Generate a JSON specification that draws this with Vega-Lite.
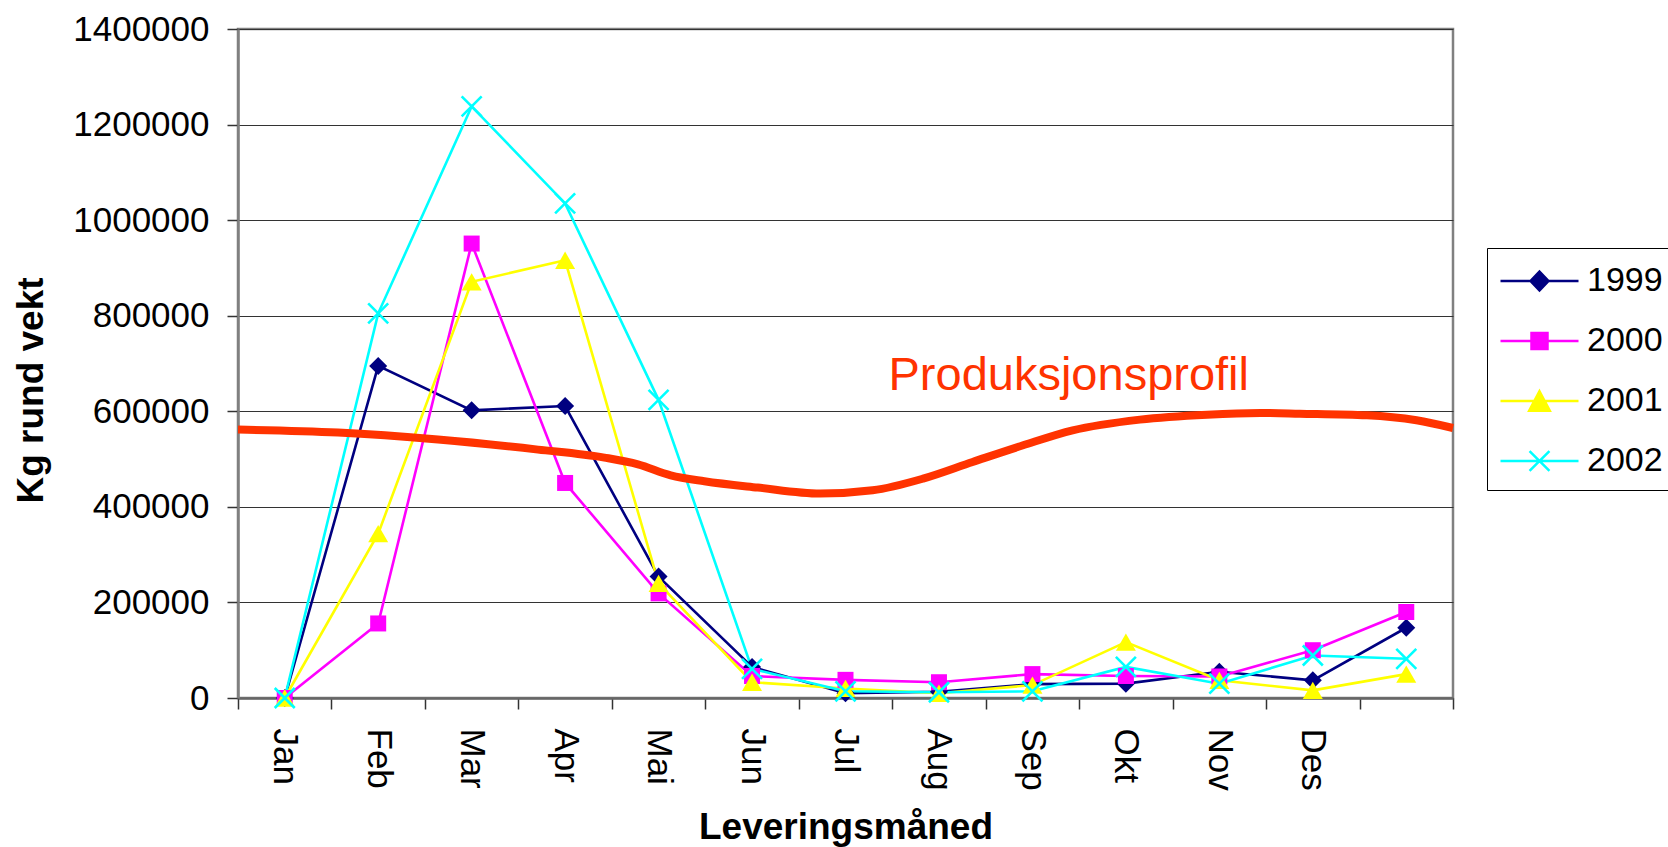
{
  "$schema": "https://vega.github.io/schema/vega-lite/v6.json",
  "autosize": {"type": "none"},
  "padding": {"left": 238, "top": 29, "right": 215, "bottom": 149},
  "width": 1215,
  "height": 669,
  "background": "white",
  "config": {
    "font": "Liberation Sans",
    "view": {"stroke": "#808080", "strokeWidth": 2.5},
    "axis": {"labelColor": "black", "titleColor": "black", "labelFont": "Liberation Sans", "titleFont": "Liberation Sans"},
    "legend": {"labelFont": "Liberation Sans", "orient": "none", "legendX": 1249, "legendY": 219, "padding": 12, "strokeColor": "#000000", "symbolSize": 1521, "symbolStrokeWidth": 2.5, "labelFontSize": 34, "labelColor": "black", "labelOffset": 46, "rowPadding": 22}
  },
  "datasets": {
    "series": [
      {"m": 1, "year": "1999", "v": 0}, {"m": 2, "year": "1999", "v": 695000}, {"m": 3, "year": "1999", "v": 602000}, {"m": 4, "year": "1999", "v": 611000}, {"m": 5, "year": "1999", "v": 254000}, {"m": 6, "year": "1999", "v": 65000}, {"m": 7, "year": "1999", "v": 10000}, {"m": 8, "year": "1999", "v": 13000}, {"m": 9, "year": "1999", "v": 29000}, {"m": 10, "year": "1999", "v": 30000}, {"m": 11, "year": "1999", "v": 55000}, {"m": 12, "year": "1999", "v": 37000}, {"m": 13, "year": "1999", "v": 147000},
      {"m": 1, "year": "2000", "v": 0}, {"m": 2, "year": "2000", "v": 156000}, {"m": 3, "year": "2000", "v": 951000}, {"m": 4, "year": "2000", "v": 450000}, {"m": 5, "year": "2000", "v": 219000}, {"m": 6, "year": "2000", "v": 46000}, {"m": 7, "year": "2000", "v": 38000}, {"m": 8, "year": "2000", "v": 33000}, {"m": 9, "year": "2000", "v": 50000}, {"m": 10, "year": "2000", "v": 46000}, {"m": 11, "year": "2000", "v": 45000}, {"m": 12, "year": "2000", "v": 100000}, {"m": 13, "year": "2000", "v": 180000},
      {"m": 1, "year": "2001", "v": 0}, {"m": 2, "year": "2001", "v": 344000}, {"m": 3, "year": "2001", "v": 871000}, {"m": 4, "year": "2001", "v": 916000}, {"m": 5, "year": "2001", "v": 240000}, {"m": 6, "year": "2001", "v": 33000}, {"m": 7, "year": "2001", "v": 20000}, {"m": 8, "year": "2001", "v": 10000}, {"m": 9, "year": "2001", "v": 27000}, {"m": 10, "year": "2001", "v": 117000}, {"m": 11, "year": "2001", "v": 37000}, {"m": 12, "year": "2001", "v": 16000}, {"m": 13, "year": "2001", "v": 50000},
      {"m": 1, "year": "2002", "v": 0}, {"m": 2, "year": "2002", "v": 805000}, {"m": 3, "year": "2002", "v": 1238000}, {"m": 4, "year": "2002", "v": 1035000}, {"m": 5, "year": "2002", "v": 624000}, {"m": 6, "year": "2002", "v": 61000}, {"m": 7, "year": "2002", "v": 14000}, {"m": 8, "year": "2002", "v": 12000}, {"m": 9, "year": "2002", "v": 14000}, {"m": 10, "year": "2002", "v": 65000}, {"m": 11, "year": "2002", "v": 30000}, {"m": 12, "year": "2002", "v": 89000}, {"m": 13, "year": "2002", "v": 82000}
    ],
    "profil": [
      {"x": 0.5, "y": 561700}, {"x": 1.57, "y": 555400}, {"x": 2.64, "y": 540800}, {"x": 3.71, "y": 519800}, {"x": 4.42, "y": 503100}, {"x": 4.78, "y": 489000}, {"x": 5.13, "y": 466000}, {"x": 5.49, "y": 453500}, {"x": 6.06, "y": 440300}, {"x": 6.73, "y": 427700}, {"x": 7.29, "y": 434600}, {"x": 7.83, "y": 459100}, {"x": 8.36, "y": 493900}, {"x": 8.9, "y": 528800}, {"x": 9.43, "y": 560200}, {"x": 10.15, "y": 582600}, {"x": 10.87, "y": 593000}, {"x": 11.44, "y": 596400}, {"x": 11.86, "y": 595000}, {"x": 12.58, "y": 591600}, {"x": 13.11, "y": 581100}, {"x": 13.5, "y": 565000}
    ],
    "tekst": [{"x": 7.46, "y": 644000, "t": "Produksjonsprofil"}]
  },
  "resolve": {"axis": {"x": "independent"}},
  "layer": [
    {
      "data": {"name": "series"},
      "transform": [{"filter": "datum.m == 1"}],
      "mark": {"type": "point", "filled": true, "size": 10, "strokeWidth": 2.5, "opacity": 1},
      "encoding": {
        "x": {"field": "m", "type": "quantitative", "axis": null},
        "y": {"field": "v", "type": "quantitative"},
        "fill": {"field": "year", "type": "nominal", "scale": {"domain": ["1999", "2000", "2001", "2002"], "range": ["#000080", "#FF00FF", "#FFFF00", "transparent"]}, "legend": {"title": null}},
        "stroke": {"field": "year", "type": "nominal", "scale": {"domain": ["1999", "2000", "2001", "2002"], "range": ["#000080", "#FF00FF", "#FFFF00", "#00FFFF"]}, "legend": {"title": null}},
        "shape": {"field": "year", "type": "nominal", "scale": {"domain": ["1999", "2000", "2001", "2002"], "range": ["M-1,0L3,0M1,-0.48L1.46,0L1,0.48L0.54,0Z", "M-1,0L3,0M0.59,-0.41L1.41,-0.41L1.41,0.41L0.59,0.41Z", "M-1,0L3,0M1,-0.5L1.53,0.5L0.47,0.5Z", "M-1,0L3,0M0.49,-0.51L1.51,0.51M0.49,0.51L1.51,-0.51"]}, "legend": {"title": null}}
      }
    },
    {
      "data": {"name": "series"},
      "mark": {"type": "line", "strokeWidth": 2.6},
      "encoding": {
        "x": {"field": "m", "type": "quantitative", "scale": {"domain": [0.5, 13.5], "nice": false, "zero": false},
          "axis": {"orient": "bottom", "values": [0.5, 1.5, 2.5, 3.5, 4.5, 5.5, 6.5, 7.5, 8.5, 9.5, 10.5, 11.5, 12.5, 13.5], "labels": false, "ticks": true, "tickSize": 11, "tickColor": "#333333", "tickWidth": 1.5, "domain": true, "domainColor": "#666666", "domainWidth": 2.5, "grid": false, "title": null}},
        "y": {"field": "v", "type": "quantitative", "scale": {"domain": [0, 1400000], "nice": false, "zero": true},
          "axis": {"values": [0, 200000, 400000, 600000, 800000, 1000000, 1200000, 1400000], "format": "d", "tickSize": 11, "tickColor": "#333333", "tickWidth": 1.5, "labelPadding": 18, "labelFontSize": 35, "labelBaseline": "middle", "grid": true, "gridColor": "#333333", "gridWidth": 1, "domainColor": "#808080", "domainWidth": 2.5, "title": "Kg rund vekt", "titleFontSize": 37, "titleFontWeight": "bold", "titleX": -196, "titleY": 361, "titleAngle": 270, "titleBaseline": "alphabetic", "titleAlign": "center"}},
        "color": {"field": "year", "type": "nominal", "scale": {"domain": ["1999", "2000", "2001", "2002"], "range": ["#000080", "#FF00FF", "#FFFF00", "#00FFFF"]}, "legend": null}
      }
    },
    {
      "data": {"name": "series"},
      "transform": [{"filter": "datum.year == '1999'"}],
      "mark": {"type": "point", "filled": true, "shape": "diamond", "size": 324, "opacity": 1},
      "encoding": {
        "x": {"field": "m", "type": "quantitative",
          "axis": {"orient": "bottom", "values": [1, 2, 3, 4, 5, 6, 7, 8, 9, 10, 11, 12], "ticks": false, "domain": false, "grid": false, "labelAngle": 90, "labelAlign": "left", "labelBaseline": "middle", "labelPadding": 30, "labelFontSize": 35, "labelFlush": false, "labelOverlap": false, "labelExpr": "['Jan','Feb','Mar','Apr','Mai','Jun','Jul','Aug','Sep','Okt','Nov','Des'][datum.value-1]", "title": "Leveringsmåned", "titleFontSize": 37, "titleFontWeight": "bold", "titleY": 140, "titleBaseline": "alphabetic"}},
        "y": {"field": "v", "type": "quantitative"},
        "color": {"field": "year", "type": "nominal", "legend": null}
      }
    },
    {
      "data": {"name": "series"},
      "transform": [{"filter": "datum.year == '2000'"}],
      "mark": {"type": "point", "filled": true, "shape": "square", "size": 256, "opacity": 1},
      "encoding": {
        "x": {"field": "m", "type": "quantitative", "axis": null},
        "y": {"field": "v", "type": "quantitative"},
        "color": {"field": "year", "type": "nominal", "legend": null}
      }
    },
    {
      "data": {"name": "series"},
      "transform": [{"filter": "datum.year == '2001'"}],
      "mark": {"type": "point", "filled": true, "shape": "triangle-up", "size": 400, "opacity": 1},
      "encoding": {
        "x": {"field": "m", "type": "quantitative", "axis": null},
        "y": {"field": "v", "type": "quantitative"},
        "color": {"field": "year", "type": "nominal", "legend": null}
      }
    },
    {
      "data": {"name": "series"},
      "transform": [{"filter": "datum.year == '2002'"}],
      "mark": {"type": "point", "filled": false, "shape": "M-1,-1L1,1M-1,1L1,-1", "size": 400, "strokeWidth": 2.6, "opacity": 1},
      "encoding": {
        "x": {"field": "m", "type": "quantitative", "axis": null},
        "y": {"field": "v", "type": "quantitative"},
        "color": {"field": "year", "type": "nominal", "legend": null}
      }
    },
    {
      "data": {"name": "profil"},
      "mark": {"type": "line", "color": "#FF3300", "strokeWidth": 8, "interpolate": "monotone"},
      "encoding": {
        "x": {"field": "x", "type": "quantitative", "axis": null},
        "y": {"field": "y", "type": "quantitative"}
      }
    },
    {
      "data": {"name": "tekst"},
      "mark": {"type": "text", "align": "left", "baseline": "alphabetic", "fontSize": 47, "color": "#FF3300", "font": "Liberation Sans"},
      "encoding": {
        "x": {"field": "x", "type": "quantitative", "axis": null},
        "y": {"field": "y", "type": "quantitative"},
        "text": {"field": "t"}
      }
    }
  ]
}
